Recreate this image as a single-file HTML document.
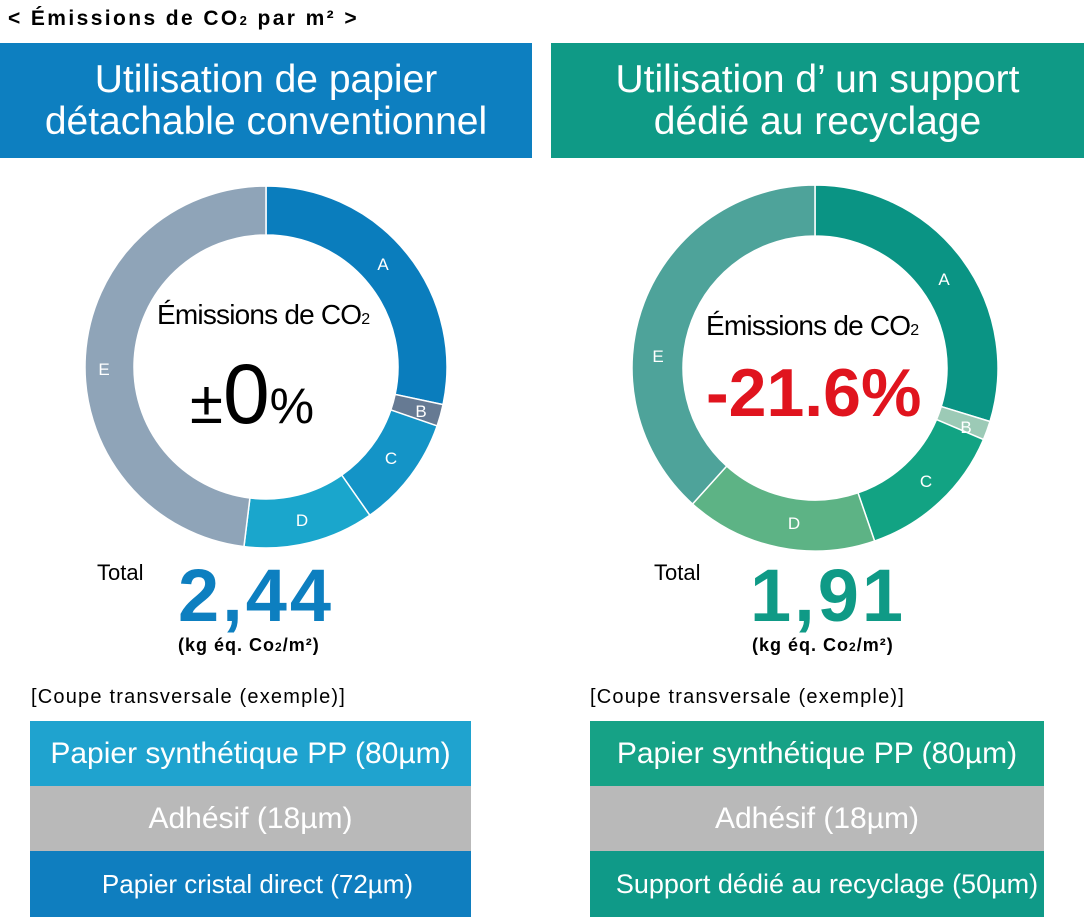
<!DOCTYPE html>
<html><head><meta charset="utf-8"><style>
body{margin:0;width:1084px;height:917px;background:#fff;position:relative;overflow:hidden;font-family:"Liberation Sans","DejaVu Sans",sans-serif}
.a{position:absolute;white-space:nowrap}
.hd{position:absolute;top:43px;height:115px;color:#fff;font-size:39px;line-height:42px;text-align:center;display:flex;align-items:center;justify-content:center}
.row{position:absolute;height:65px;color:#fff;font-size:30px;display:flex;align-items:center;justify-content:center}
</style></head><body>
<div class="a" style="left:8px;top:7px;font-size:21px;font-weight:bold;letter-spacing:2.4px">&lt; Émissions de CO<span style="font-size:13px">2</span> par m² &gt;</div>
<div class="hd" style="left:0;width:532px;background:#0d7fc0">Utilisation de papier<br>détachable conventionnel</div>
<div class="hd" style="left:551px;width:533px;background:#0f9a86">Utilisation d’ un support<br>dédié au recyclage</div>
<svg class="a" style="left:0;top:0" width="1084" height="917" id="s"></svg>
<div class="a" style="left:157px;top:299px;font-size:28px;letter-spacing:-0.8px">Émissions de CO<span style="font-size:16px">2</span></div>
<div class="a" style="left:190px;top:352px;font-size:84px;line-height:84px"><span style="font-size:60px">±</span>0<span style="font-size:50px">%</span></div>
<div class="a" style="left:706px;top:310px;font-size:28px;letter-spacing:-0.8px">Émissions de CO<span style="font-size:16px">2</span></div>
<div class="a" style="left:706px;top:357px;font-size:68px;line-height:72px;color:#e0141e;font-weight:bold">-21.6%</div>
<div class="a" style="left:97px;top:560px;font-size:22px">Total</div>
<div class="a" style="left:178px;top:556px;font-size:74px;line-height:80px;color:#0d7fc0;font-weight:bold;letter-spacing:3px">2,44</div>
<div class="a" style="left:178px;top:635px;font-size:18px;font-weight:bold;letter-spacing:1px">(kg éq. Co<span style="font-size:12px">2</span>/m²)</div>
<div class="a" style="left:654px;top:560px;font-size:22px">Total</div>
<div class="a" style="left:750px;top:556px;font-size:74px;line-height:80px;color:#0f9a86;font-weight:bold;letter-spacing:3px">1,91</div>
<div class="a" style="left:752px;top:635px;font-size:18px;font-weight:bold;letter-spacing:1px">(kg éq. Co<span style="font-size:12px">2</span>/m²)</div>
<div class="a" style="left:31px;top:686px;font-size:20px;letter-spacing:1.2px">[Coupe transversale (exemple)]</div>
<div class="a" style="left:590px;top:686px;font-size:20px;letter-spacing:1.2px">[Coupe transversale (exemple)]</div>
<div class="row" style="left:30px;width:441px;top:721px;background:#1fa3cf">Papier synthétique PP (80µm)</div>
<div class="row" style="left:30px;width:441px;top:786px;background:#b9b9b9">Adhésif (18µm)</div>
<div class="row" style="left:30px;width:441px;top:851px;height:66px;background:#0f7ebf;font-size:26px;padding-left:14px;box-sizing:border-box">Papier cristal direct (72µm)</div>
<div class="row" style="left:590px;width:454px;top:721px;background:#16a286">Papier synthétique PP (80µm)</div>
<div class="row" style="left:590px;width:454px;top:786px;background:#b9b9b9">Adhésif (18µm)</div>
<div class="row" style="left:590px;width:454px;top:851px;height:66px;background:#0f9a88;font-size:27px;padding-left:20px;box-sizing:border-box">Support dédié au recyclage (50µm)</div>
<script>
var s=document.getElementById('s'),h='';
function pt(cx,cy,r,a){a=a*Math.PI/180;return [cx+r*Math.sin(a),cy-r*Math.cos(a)];}
function donut(cx,cy,R,r,segs){var p=0;segs.forEach(function(g){var a0=p,a1=g[0];p=a1;var L=(a1-a0)>180?1:0;
var o0=pt(cx,cy,R,a0),o1=pt(cx,cy,R,a1),i1=pt(cx,cy,r,a1),i0=pt(cx,cy,r,a0);
h+='<path d="M'+o0+' A'+R+' '+R+' 0 '+L+' 1 '+o1+' L'+i1+' A'+r+' '+r+' 0 '+L+' 0 '+i0+'Z" fill="'+g[1]+'" stroke="#fff" stroke-width="1.5"/>';});}
donut(266,367,181,132,[[102,'#0a7dbd'],[109,'#667a93'],[145,'#1494c7'],[187,'#1aa6cc'],[360,'#8fa4b8']]);
donut(815,368,183,132,[[107,'#0a9484'],[113,'#9ccab6'],[161,'#12a383'],[222,'#5db385'],[360,'#4ea39a']]);
function t(x,y,c){h+='<text x="'+x+'" y="'+y+'" fill="#fff" font-size="17" text-anchor="middle" font-family="Liberation Sans,sans-serif">'+c+'</text>';}
t(383,270,'A');t(421,417,'B');t(391,464,'C');t(302,526,'D');t(104,375,'E');
t(944,285,'A');t(966,433,'B');t(926,487,'C');t(794,529,'D');t(658,362,'E');
s.innerHTML=h;
</script>
</body></html>
